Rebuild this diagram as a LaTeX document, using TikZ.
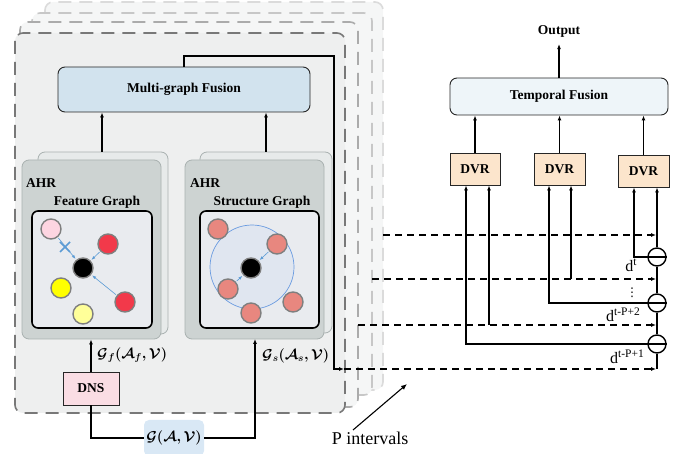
\documentclass[tikz,border=0pt]{standalone}
\usepackage{amsmath,bm}
\usepackage{fontspec}
\setmainfont{Liberation Serif}
\newfontfamily\dejavu{DejaVu Sans}
\usetikzlibrary{arrows.meta,calc}
\definecolor{frontfill}{HTML}{EEEFEF}
\definecolor{frontdraw}{HTML}{787878}
\definecolor{backfill}{HTML}{F5F6F6}
\definecolor{ahrfill}{HTML}{CDD3D2}
\definecolor{ahrdraw}{HTML}{A9B1B0}
\definecolor{ahrback}{HTML}{E7EAEA}
\definecolor{innerfill}{HTML}{E9EBEF}
\definecolor{mgffill}{HTML}{D2E3EE}
\definecolor{tffill}{HTML}{EEF5F9}
\definecolor{dvrfill}{HTML}{FCE5CC}
\definecolor{dnsfill}{HTML}{FADDE4}
\definecolor{gfill}{HTML}{D9E8F5}
\definecolor{pinkn}{HTML}{FDD5E1}
\definecolor{redn}{HTML}{F2394A}
\definecolor{yellown}{HTML}{FFFF00}
\definecolor{lyellown}{HTML}{FFFF99}
\definecolor{salmonn}{HTML}{E8877F}
\definecolor{nodeborder}{HTML}{7F7F7F}
\definecolor{blueline}{HTML}{5B9BD5}
\definecolor{bigcfill}{HTML}{E0E6F0}
\definecolor{bigcdraw}{HTML}{6A9BE0}
\newcommand{\dsup}[1]{d\raisebox{6pt}{\fontsize{11.5}{12}\selectfont #1}}
\tikzset{
  arr/.style={draw=black, line width=1.1pt, -{Latex[length=5pt,width=4pt]}},
  plain/.style={draw=black, line width=1.1pt},
  dashedarr/.style={draw=black, line width=1.3pt, dash pattern=on 7pt off 5pt, -{Latex[length=5pt,width=4pt]}},
  bluearr/.style={draw=blueline, line width=0.6pt, -{Latex[length=4pt,width=3pt]}},
  boxlabel/.style={font=\fontsize{13.5}{16}\selectfont\bfseries},
  framebox/.style={rounded corners=8pt, line width=1.6pt, dash pattern=on 13pt off 8pt},
  gnode/.style={circle, minimum size=20pt, inner sep=0pt, draw=nodeborder, line width=1.4pt},
  diffc/.style={circle, minimum size=18pt, inner sep=0pt, draw=black, line width=1.4pt, fill=white},
  rbox/.style={draw=black!85, line width=0.9pt, inner sep=0pt, boxlabel},
  dlabel/.style={font=\fontsize{16}{18}\selectfont, inner sep=0pt},
  mathlabel/.style={font=\fontsize{14}{16}\selectfont, inner sep=0pt}
}
\begin{document}
\begin{tikzpicture}[x=1pt,y=-1pt]
\useasboundingbox (0,0) rectangle (694,454);
% stacked frames
\draw[framebox, draw=black!14, fill=backfill] (45,2) rectangle (383,390);
\draw[framebox, draw=black!22, fill=backfill] (32,13) rectangle (372,395);
\draw[framebox, draw=black!33, fill=backfill] (20,22) rectangle (358,407);
\draw[framebox, draw=frontdraw, fill=frontfill] (15,33) rectangle (345,413);
% multi-graph fusion
\node[rbox, rounded corners=7pt, fill=mgffill, minimum width=252pt, minimum height=45pt] (mgf) at (184,89.5) {Multi-graph Fusion};
% AHR blocks
\node[draw=ahrdraw, fill=ahrback, rounded corners=7pt, line width=0.8pt, minimum width=130pt, minimum height=182pt, inner sep=0pt] (ahr1b) at (103,243) {};
\node[draw=ahrdraw, fill=ahrfill, rounded corners=7pt, line width=0.8pt, minimum width=139pt, minimum height=179pt, inner sep=0pt] (ahr1) at (91.5,249.5) {};
\node[draw=ahrdraw, fill=ahrback, rounded corners=7pt, line width=0.8pt, minimum width=132pt, minimum height=181pt, inner sep=0pt] (ahr2b) at (266,242.5) {};
\node[draw=ahrdraw, fill=ahrfill, rounded corners=7pt, line width=0.8pt, minimum width=139pt, minimum height=179pt, inner sep=0pt] (ahr2) at (254.5,249.5) {};
\node[boxlabel, anchor=west, inner sep=0pt] (ahrl1) at (26,183) {AHR};
\node[boxlabel, anchor=west, inner sep=0pt] (ahrl2) at (190,183) {AHR};
% inner graph boxes
\node[draw=black, fill=innerfill, rounded corners=6pt, line width=1.6pt, minimum width=120pt, minimum height=117pt, inner sep=0pt] (in1) at (92,269.5) {};
\node[draw=black, fill=innerfill, rounded corners=6pt, line width=1.6pt, minimum width=119pt, minimum height=117pt, inner sep=0pt] (in2) at (259.5,269.5) {};
\node[boxlabel, inner sep=0pt] (fgl) at (97,202) {Feature Graph};
\node[boxlabel, inner sep=0pt] (sgl) at (262,202) {Structure Graph};
% feature graph
\node[gnode, fill=pinkn] (fp) at (51,229) {};
\node[gnode, fill=redn] (fr1) at (108,244) {};
\node[gnode, fill=black] (fb) at (83,268) {};
\node[gnode, fill=yellown] (fy) at (61,288) {};
\node[gnode, fill=redn] (fr2) at (125,302) {};
\node[gnode, fill=lyellown] (fly) at (83,314) {};
\draw[bluearr, shorten <=1pt, shorten >=1pt] (fp) -- (fb);
\draw[bluearr, shorten <=1pt, shorten >=1pt] (fr1) -- (fb);
\draw[bluearr, shorten <=1pt, shorten >=1pt] (fr2) -- (fb);
\coordinate (cx) at (65,247);
\draw[draw=blueline, line width=1.6pt] ($(cx)+(-5,-5)$) -- ($(cx)+(5,5)$) ($(cx)+(-5,5)$) -- ($(cx)+(5,-5)$);
% structure graph
\node[circle, minimum size=84pt, inner sep=0pt, draw=bigcdraw, fill=bigcfill, line width=0.7pt] (bigc) at (252,267) {};
\node[gnode, fill=salmonn] (s1) at (218,229) {};
\node[gnode, fill=salmonn] (s2) at (277,244) {};
\node[gnode, fill=black] (sb) at (251,268) {};
\node[gnode, fill=salmonn] (s3) at (228,289) {};
\node[gnode, fill=salmonn] (s4) at (293,302) {};
\node[gnode, fill=salmonn] (s5) at (251,313) {};
\draw[bluearr, shorten <=1pt, shorten >=1pt] (s2) -- (sb);
\draw[bluearr, shorten <=1pt, shorten >=1pt] (s3) -- (sb);
% AHR to fusion
\draw[arr] (ahr1b.north -| 102,0) -- (mgf.south -| 102,0);
\draw[arr] (ahr2b.north -| 266,0) -- (mgf.south -| 266,0);
% DNS and G
\node[rbox, fill=dnsfill, minimum width=56pt, minimum height=33pt] (dns) at (91,388.5) {DNS};
\node[fill=gfill, rounded corners=5pt, minimum width=60pt, minimum height=36pt, inner sep=0pt, mathlabel] (g) at (174,438) {$\bm{\mathcal{G}(\mathcal{A},\mathcal{V})}$};
\draw[arr] (dns.north) -- (dns.north |- ahr1.south);
\draw[plain] (g.west) -| (dns.south);
\coordinate (gs) at (255,339);
\draw[arr] (g.east) -| (gs);
\node[mathlabel, anchor=west] (gfl) at (97,355) {$\bm{\mathcal{G}_f(\mathcal{A}_f,\mathcal{V})}$};
\node[mathlabel, anchor=west] (gsl) at (262,356) {$\bm{\mathcal{G}_s(\mathcal{A}_s,\mathcal{V})}$};
% fusion output to temporal path
\coordinate (t1) at (334,56);
\coordinate (t2) at (334,369);
\coordinate (t3) at (344,369);
\draw[arr] (mgf.north) -- (mgf.north |- t1) -- (t1) -- (t2) -- (t3);
% right part
\node[rbox, rounded corners=7pt, fill=tffill, minimum width=218pt, minimum height=37pt] (tf) at (559,96.5) {Temporal Fusion};
\node[boxlabel, inner sep=0pt] (out) at (559,31) {Output};
\draw[arr] (tf.north) -- ([yshift=-7pt]out.south);
\node[rbox, fill=dvrfill, minimum width=50pt, minimum height=32pt] (d1) at (475,169) {DVR};
\node[rbox, fill=dvrfill, minimum width=51pt, minimum height=32pt] (d2) at (559.5,169) {DVR};
\node[rbox, fill=dvrfill, minimum width=51pt, minimum height=32pt] (d3) at (643.5,171) {DVR};
\draw[arr] (d1.north) -- (d1.north |- tf.south);
\draw[arr] (d2.north) -- (d2.north |- tf.south);
\draw[arr] (d3.north) -- (d3.north |- tf.south);
% difference circles
\node[diffc] (c1) at (657,257) {};
\node[diffc] (c2) at (657,303) {};
\node[diffc] (c3) at (657,344) {};
\foreach \c in {c1,c2,c3} \draw[line width=1.4pt] (\c.west) -- (\c.east);
% dashed interval lines
\coordinate (e1) at (656,235);
\coordinate (e2) at (656,279);
\coordinate (e3) at (656,325);
\coordinate (e4) at (656,369);
\draw[dashedarr] (383,235) -- (e1);
\draw[dashedarr] (372,279) -- (e2);
\draw[dashedarr] (358,325) -- (e3);
\draw[dashedarr] (t3) -- (e4);
% vertical chain
\draw[arr] (c1.north) -- (c1.north |- d3.south);
\draw[plain] (c1.south) -- (c2.north);
\draw[plain] (c2.south) -- (c3.north);
\draw[plain] (c3.south) -- (657,369);
% feeds into DVRs
\draw[arr] (c1.west) -| ([xshift=-9.5pt]d3.south);
\draw[arr] (c2.west) -| ([xshift=-10.5pt]d2.south);
\draw[arr] (c3.west) -| ([xshift=-9pt]d1.south);
\coordinate (j2) at (571,279);
\coordinate (j1) at (489,325);
\draw[arr] (j2) -- (j2 |- d2.south);
\draw[arr] (j1) -- (j1 |- d1.south);
% labels
\node[dlabel] (l1) at (631,265) {\dsup{t}};
\node[font=\dejavu\fontsize{12}{12}\selectfont, inner sep=0pt] (ld) at (632,293) {⋮};
\node[dlabel] (l2) at (623,315) {\dsup{t-P+2}};
\node[dlabel] (l3) at (627,357) {\dsup{t-P+1}};
% P intervals
\node[font=\fontsize{18}{20}\selectfont, inner sep=0pt] (pint) at (370,438) {P intervals};
\coordinate (pend) at (407,384);
\draw[line width=1.1pt, -{Latex[length=6pt,width=5pt]}] (353,430) -- (pend);
\end{tikzpicture}
\end{document}
